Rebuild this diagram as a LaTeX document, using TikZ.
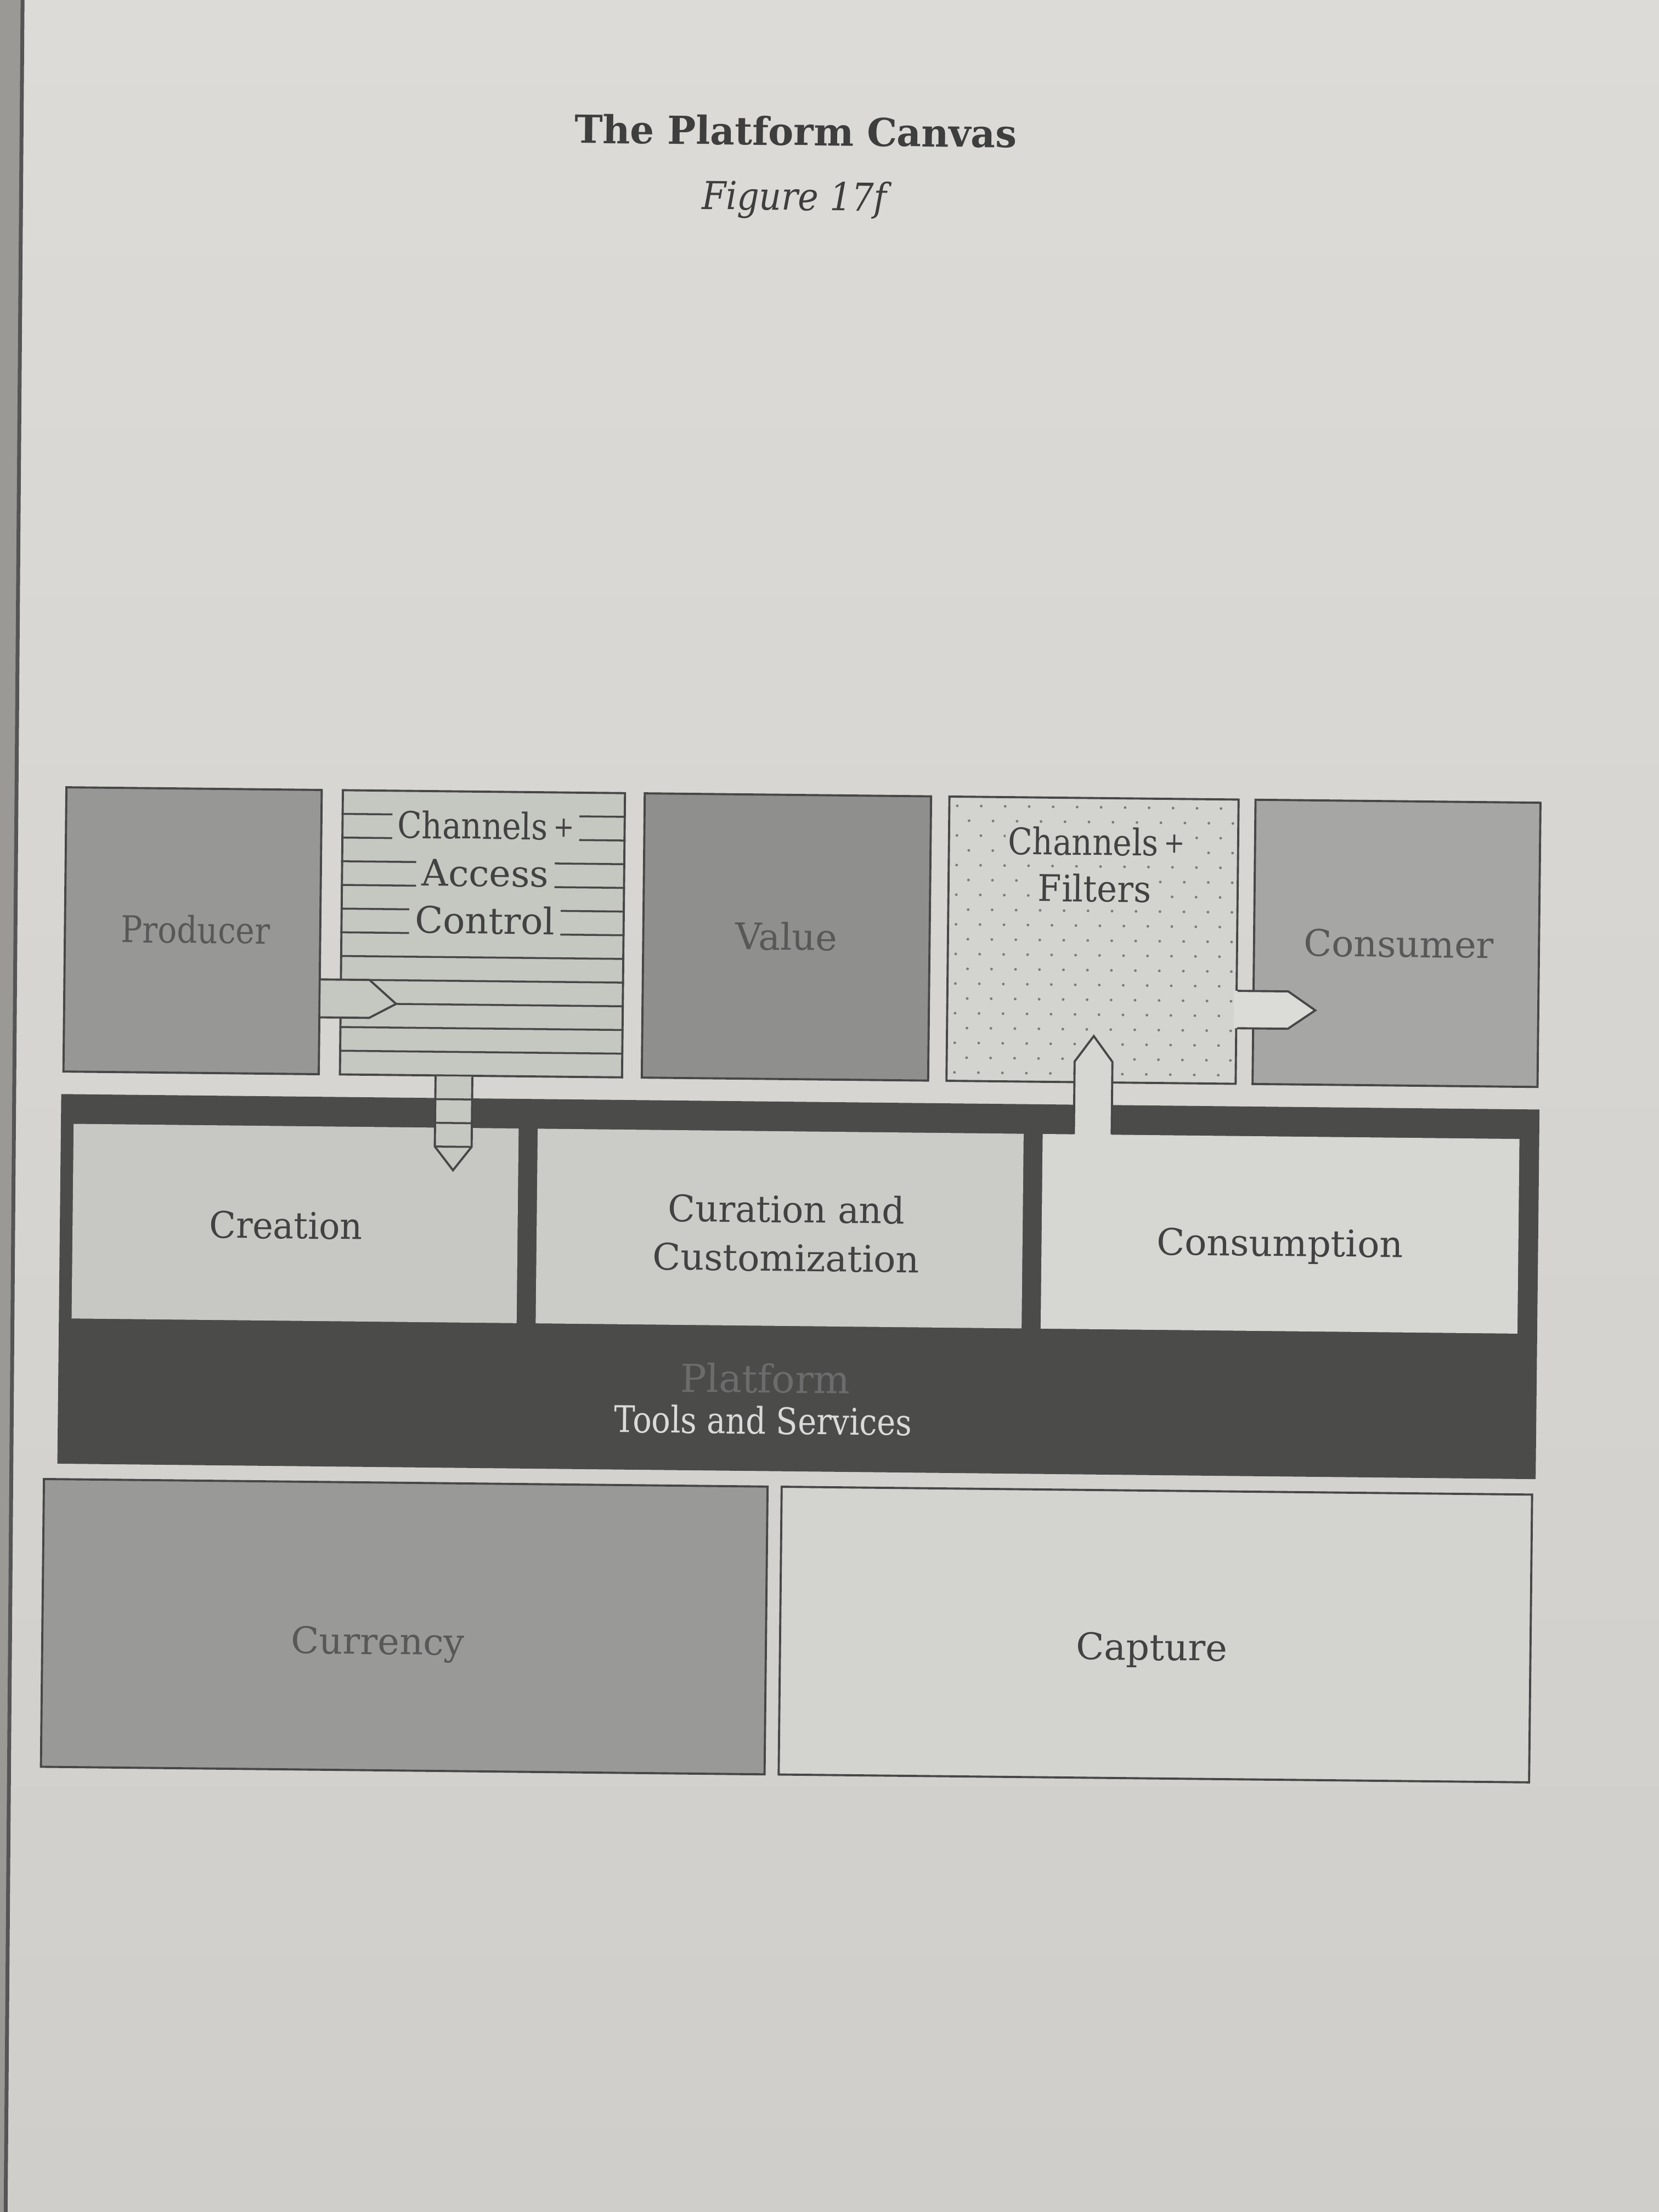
\documentclass[tikz,border=0pt]{standalone}
\usepackage{fontspec}
\setmainfont{DejaVu Serif}

% one drawing unit
\newcommand{\pxu}{0.0257cm}
% channel heading with a small, raised plus sign
\newcommand{\chanplus}{Channels\,\raisebox{1.6pt}{\fontsize{15}{15}\selectfont+}}

\definecolor{pagetop}{HTML}{DCDBD7}
\definecolor{pagebot}{HTML}{CFCECB}
\definecolor{edgegray}{HTML}{9A9996}
\definecolor{edgeline}{HTML}{555555}
\definecolor{ink}{HTML}{474747}
\definecolor{prodfill}{HTML}{979795}
\definecolor{chanfill}{HTML}{C5C7C1}
\definecolor{valfill}{HTML}{8F8F8E}
\definecolor{filtfill}{HTML}{D3D3CF}
\definecolor{consfill}{HTML}{A6A6A4}
\definecolor{bandfill}{HTML}{4B4B4A}
\definecolor{creafill}{HTML}{C7C7C4}
\definecolor{curafill}{HTML}{CBCBC8}
\definecolor{consumfill}{HTML}{D6D6D3}
\definecolor{currfill}{HTML}{999997}
\definecolor{captfill}{HTML}{D3D3D0}
\definecolor{arrowlight}{HTML}{DBDBD7}
\definecolor{dotc}{HTML}{7C7C7C}
\definecolor{midtext}{HTML}{585858}
\definecolor{lighttext}{HTML}{424242}
\definecolor{titleink}{HTML}{3E3E3E}
\definecolor{platformink}{HTML}{6C6C6C}
\definecolor{toolsink}{HTML}{DADADA}

\tikzset{
  panel/.style 2 args={draw=ink, line width=1.1pt, inner sep=0pt,
    minimum width=#1*\pxu, minimum height=#2*\pxu},
  slab/.style 2 args={inner sep=0pt, minimum width=#1*\pxu, minimum height=#2*\pxu},
  lbl/.style={font=\fontsize{19}{24}\selectfont, inner sep=0pt, anchor=base},
  stripe/.style={draw=ink, line width=1pt},
  arrowedge/.style={draw=ink, line width=1.1pt, line join=miter},
}

\begin{document}
\begin{tikzpicture}[x=\pxu, y=-\pxu]
\useasboundingbox (0,0) rectangle (1176,1568);

% page
\shade[top color=pagetop, bottom color=pagebot] (0,0) rectangle (1176,1568);
\fill[edgegray] (0,0) -- (16,0) -- (4,1568) -- (0,1568) -- cycle;
\draw[edgeline, line width=2pt] (16,0) -- (4,1568);

% heading
\node[font=\bfseries\fontsize{20}{24}\selectfont, text=titleink, anchor=base,
      inner sep=0pt, rotate=-0.6, xscale=0.98] (title) at (564,103) {The Platform Canvas};
\node[font=\itshape\fontsize{20}{24}\selectfont, text=titleink, anchor=base,
      inner sep=0pt, rotate=-0.6, xscale=0.9] (figno) at (563,149) {Figure 17f};

\begin{scope}[rotate around={-0.6:(565,910)}, transform shape]

  % platform band and its three stages
  \node[slab={1048}{262}, fill=bandfill] (platform) at (566,912) {};
  \node[slab={315.5}{138}, fill=creafill] (creation) at (208.75,871) {};
  \node[slab={344.5}{138}, fill=curafill] (curation) at (552.25,871) {};
  \node[slab={338}{138}, fill=consumfill] (consumption) at (907,871) {};

  % top row
  \node[panel={181}{201.5}, fill=prodfill] (producer) at (133.9,664.25) {};
  \node[panel={200}{201.5}, fill=chanfill] (chanA) at (339.4,664.25) {};
  \node[panel={203}{201.5}, fill=valfill] (value) at (554.9,664.25) {};
  \node[panel={205}{201.5}, fill=filtfill] (chanF) at (771.9,664.25) {};
  \node[panel={202}{201.5}, fill=consfill] (consumer) at (987.4,664.25) {};

  % ruled pattern of the access-control channel
  \foreach \k in {1,...,11} {
    \pgfmathsetmacro\yy{563.5+\k*16.79}
    \draw[stripe] (chanA.west |- 0,\yy) -- (chanA.east |- 0,\yy);
  }
  \begin{scope}[every node/.style={lbl, fill=chanfill, text=lighttext,
      text height=13.9pt, text depth=0pt, inner xsep=3pt, inner ysep=2.5pt}]
    \node[xscale=0.87] (chanA-1) at (341,597.08) {\chanplus};
    \node (chanA-2) at (341,630.66) {Access};
    \node (chanA-3) at (341,664.24) {Control};
  \end{scope}

  % dotted pattern of the filter channel
  \foreach \r in {0,...,18} {
    \foreach \c in {0,...,11} {
      \fill[dotc] ({675+\c*17+mod(\r,2)*8.5},{570+\r*10.5}) circle[radius=0.7pt];
    }
  }
  \node[lbl, fill=filtfill, text=lighttext, inner sep=1.5pt, xscale=0.87] (chanF-1) at (774,604) {\chanplus};
  \node[lbl, fill=filtfill, text=lighttext, inner sep=1.5pt, xscale=0.93] (chanF-2) at (773,637) {Filters};

  % block arrows
  % producer -> access-control channel
  \fill[chanfill] (225.2,697.8) -- (259.7,697.8) -- (278.7,714.6) -- (259.7,724.7) -- (225.2,724.7) -- cycle;
  \draw[arrowedge] (producer.east |- 0,697.8) -- (259.7,697.8) -- (278.7,714.6)
    -- (259.7,724.7) -- (producer.east |- 0,724.7);

  % access-control channel -> creation
  \fill[chanfill] (307.2,765.6) -- (307.2,815.4) -- (320.25,832.1) -- (333.3,815.4) -- (333.3,765.6) -- cycle;
  \draw[arrowedge] (chanA.south -| 307.2,0) -- (307.2,815.4) -- (320.25,832.1)
    -- (333.3,815.4) -- (chanA.south -| 333.3,0);
  \foreach \yy in {781.8,798.6,815.4}
    \draw[stripe] (307.2,\yy) -- (333.3,\yy);

  % consumption -> filter channel
  \fill[consumfill] (760.1,803) -- (760.1,750.4) -- (773.5,732.2) -- (786.9,750.4) -- (786.9,803) -- cycle;
  \draw[arrowedge] (consumption.north -| 760.1,0) -- (760.1,750.4) -- (773.5,732.2)
    -- (786.9,750.4) -- (consumption.north -| 786.9,0);

  % filter channel -> consumer
  \fill[arrowlight] (872.5,699.1) -- (911,699.1) -- (930.3,712.35) -- (911,725.6) -- (872.5,725.6) -- cycle;
  \draw[arrowedge] (chanF.east |- 0,699.1) -- (911,699.1) -- (930.3,712.35)
    -- (911,725.6) -- (chanF.east |- 0,725.6);

  % bottom row
  \node[panel={513}{204}, fill=currfill] (currency) at (289.1,1156) {};
  \node[panel={532}{204}, fill=captfill] (capture) at (821.6,1156) {};

  % labels
  \node[lbl, text=midtext, xscale=0.87] (producer-label) at (136,673) {Producer};
  \node[lbl, text=midtext] (value-label) at (555,673.5) {Value};
  \node[lbl, text=midtext] (consumer-label) at (989,674) {Consumer};
  \node[lbl, text=lighttext, xscale=0.95] (creation-label) at (202.3,881.8) {Creation};
  \node[lbl, text=lighttext, xscale=0.97] (curation-label-1) at (557,866.7) {Curation and};
  \node[lbl, text=lighttext] (curation-label-2) at (557,901.1) {Customization};
  \node[lbl, text=lighttext] (consumption-label) at (907,886.8) {Consumption};
  \node[lbl, text=platformink, font=\fontsize{20}{24}\selectfont] (platform-label) at (543.3,987.5) {Platform};
  \node[lbl, text=toolsink, xscale=0.86] (tools-label) at (542,1016.7) {Tools and Services};
  \node[lbl, text=midtext] (currency-label) at (270.5,1175.8) {Currency};
  \node[lbl, text=lighttext] (capture-label) at (819.2,1174.2) {Capture};

\end{scope}
\end{tikzpicture}
\end{document}
